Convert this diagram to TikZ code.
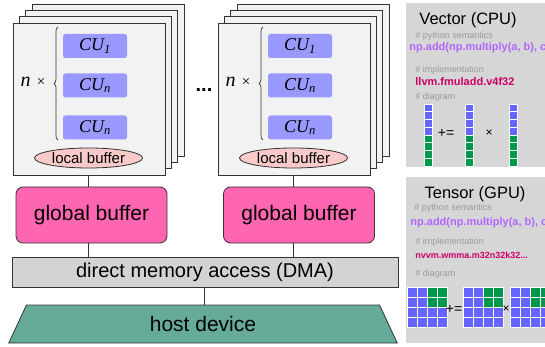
\documentclass[tikz,border=0pt]{standalone}
\usepackage{fontspec}
\setmainfont{Liberation Sans}
\newfontfamily\cufont{Liberation Serif}
\usepackage{tikz}
\usetikzlibrary{arrows}
\usetikzlibrary{shapes.geometric}
\usetikzlibrary{decorations.pathreplacing}

\definecolor{edge}{HTML}{333333}
\definecolor{cardfill}{HTML}{F2F2F2}
\definecolor{cufill}{HTML}{9999FF}
\definecolor{lbfill}{HTML}{F8CACA}
\definecolor{gbfill}{HTML}{FF66B2}
\definecolor{dmafill}{HTML}{D3D3D3}
\definecolor{hostfill}{HTML}{66AA99}
\definecolor{panelfill}{HTML}{D6D6D6}
\definecolor{cellblue}{HTML}{6666FF}
\definecolor{cellgreen}{HTML}{00994C}
\definecolor{semcol}{HTML}{B266FF}
\definecolor{implcol}{HTML}{CC0066}
\definecolor{cmtcol}{HTML}{9A9A9A}

\newcommand{\fs}[1]{\fontsize{#1}{#1}\selectfont}

\begin{document}
\begin{tikzpicture}[x=1pt,y=-1pt,line width=0.8pt,
  card/.style={draw=edge,fill=cardfill,minimum width=152pt,minimum height=152pt,inner sep=0pt,outer sep=0pt},
  cu/.style={fill=cufill,rounded corners=2.5pt,minimum width=64pt,minimum height=24pt,inner sep=0pt,font=\cufont\itshape\fs{18}},
  lbuf/.style={ellipse,draw=edge,fill=lbfill,minimum width=108pt,minimum height=20pt,inner sep=0pt,font=\fs{15}},
  gbuf/.style={draw=edge,fill=gbfill,rounded corners=7pt,minimum width=151pt,minimum height=56pt,inner sep=0pt,outer sep=0pt,font=\fs{21}},
  dmabox/.style={draw=edge,fill=dmafill,minimum width=386pt,minimum height=30pt,inner sep=0pt,outer sep=0pt,font=\fs{20}},
  hostbox/.style={trapezium,trapezium left angle=71,trapezium right angle=71,trapezium stretches=true,draw=edge,fill=hostfill,minimum width=389pt,minimum height=38pt,inner sep=0pt,outer sep=0pt,font=\fs{21}},
  link/.style={draw=edge,line width=0.8pt},
  cell/.style={draw=white,line width=0.9pt},
  ptitle/.style={inner sep=0pt,font=\fs{16.5}},
  cmt/.style={anchor=west,inner sep=0pt,text=cmtcol,font=\fs{9}},
  sem/.style={anchor=west,inner sep=0pt,text=semcol,font=\bfseries\fs{11}},
  impl/.style={anchor=west,inner sep=0pt,text=implcol,font=\bfseries\fs{11}},
  op/.style={inner sep=0pt,font=\fs{14}}]

  \useasboundingbox (0,0) rectangle (545,347);

  % card stacks
  \foreach \s/\ox in {1/0,2/205}{
    \foreach \k in {3,2,1}
      \node [card] (card\s b\k) at (89+\ox+6.3*\k,99-6.3*\k) {};
    \node [card] (card\s) at (89+\ox,99) {};
    \node [cu] (cu\s a) at (95+\ox,46) {CU\textsubscript{1}};
    \node [cu] (cu\s b) at (95+\ox,85.5) {CU\textsubscript{n}};
    \node [cu] (cu\s c) at (95+\ox,127.5) {CU\textsubscript{n}};
    \draw [edge,line width=0.7pt,decorate,decoration={brace,amplitude=4pt}]
      (58+\ox,140) -- (58+\ox,27);
    \node [inner sep=0pt] (times\s) at (33+\ox,82)
      {\cufont\itshape\fs{20}n\upshape\fs{15}\, ×};
    \node [lbuf] (lb\s) at (88.5+\ox,158) {local buffer};
  }
  \node [inner sep=0pt,font=\bfseries\fs{20}] (dots) at (204,90) {...};

  \node [gbuf] (gb1) at (91.5,215) {global buffer};
  \node [gbuf] (gb2) at (299,215) {global buffer};
  \node [dmabox] (dma) at (205,272) {direct memory access (DMA)};
  \node [hostbox] (host) at (203,324) {host device};

  \draw [link] (card1.south -| lb1) -- (gb1.north -| lb1);
  \draw [link] (card2.south -| lb2) -- (gb2.north -| lb2);
  \draw [link] (gb1.south -| lb1) -- (dma.north -| lb1);
  \draw [link] (gb2.south -| lb2) -- (dma.north -| lb2);
  \draw [link] (dma.south -| 204,0) -- (host.north -| 204,0);

  % side panels
  \begin{scope}
    \clip (0,0) rectangle (545,347);
    \fill [panelfill] (406,3) rectangle (550,167);
    \fill [panelfill] (406,177) rectangle (550,343);

    \node [ptitle] (vtitle) at (468,20.5) {Vector (CPU)};
    \node [cmt] (vsemc) at (415,36) {\# python semantics};
    \node [sem] (vsem) at (409,47.5) {np.add(np.multiply(a, b), c)};
    \node [cmt] (vimplc) at (415,70.5) {\# implementation};
    \node [impl] (vimpl) at (415,82) {llvm.fmuladd.v4f32};
    \node [cmt] (vdiagc) at (415,97.5) {\# diagram};
    \foreach \cx in {424,465,509}
      \foreach \i in {0,...,7}{
        \ifnum\i<4 \def\cc{cellblue}\else\def\cc{cellgreen}\fi
        \filldraw [cell,fill=\cc] (\cx,104+7.75*\i) rectangle ++(8.5,7.75);
      }
    \node [op] (vadd) at (446,133) {+=};
    \node [op,font=\fs{12}] (vmul) at (489,133) {×};

    \node [ptitle] (ttitle) at (475,194.5) {Tensor (GPU)};
    \node [cmt] (tsemc) at (414,208.5) {\# python semantics};
    \node [sem] (tsem) at (410,223) {np.add(np.multiply(a, b), c)};
    \node [cmt] (timplc) at (415,242.5) {\# implementation};
    \node [impl,font=\bfseries\fs{9}] (timpl) at (415,255.5) {nvvm.wmma.m32n32k32...};
    \node [cmt] (tdiagc) at (415,274.5) {\# diagram};
    \foreach \gx in {407,463,510}
      \foreach \r in {0,...,3}
        \foreach \c in {0,...,3}{
          \def\cc{cellblue}
          \ifnum\r<2 \ifnum\c>1 \def\cc{cellgreen}\fi\fi
          \filldraw [cell,fill=\cc] (\gx+10*\c,287+10*\r) rectangle ++(10,10);
        }
    \node [op] (tadd) at (454,309) {+=};
    \node [op,font=\fs{12}] (tmul) at (506,309) {×};
  \end{scope}

\end{tikzpicture}
\end{document}
